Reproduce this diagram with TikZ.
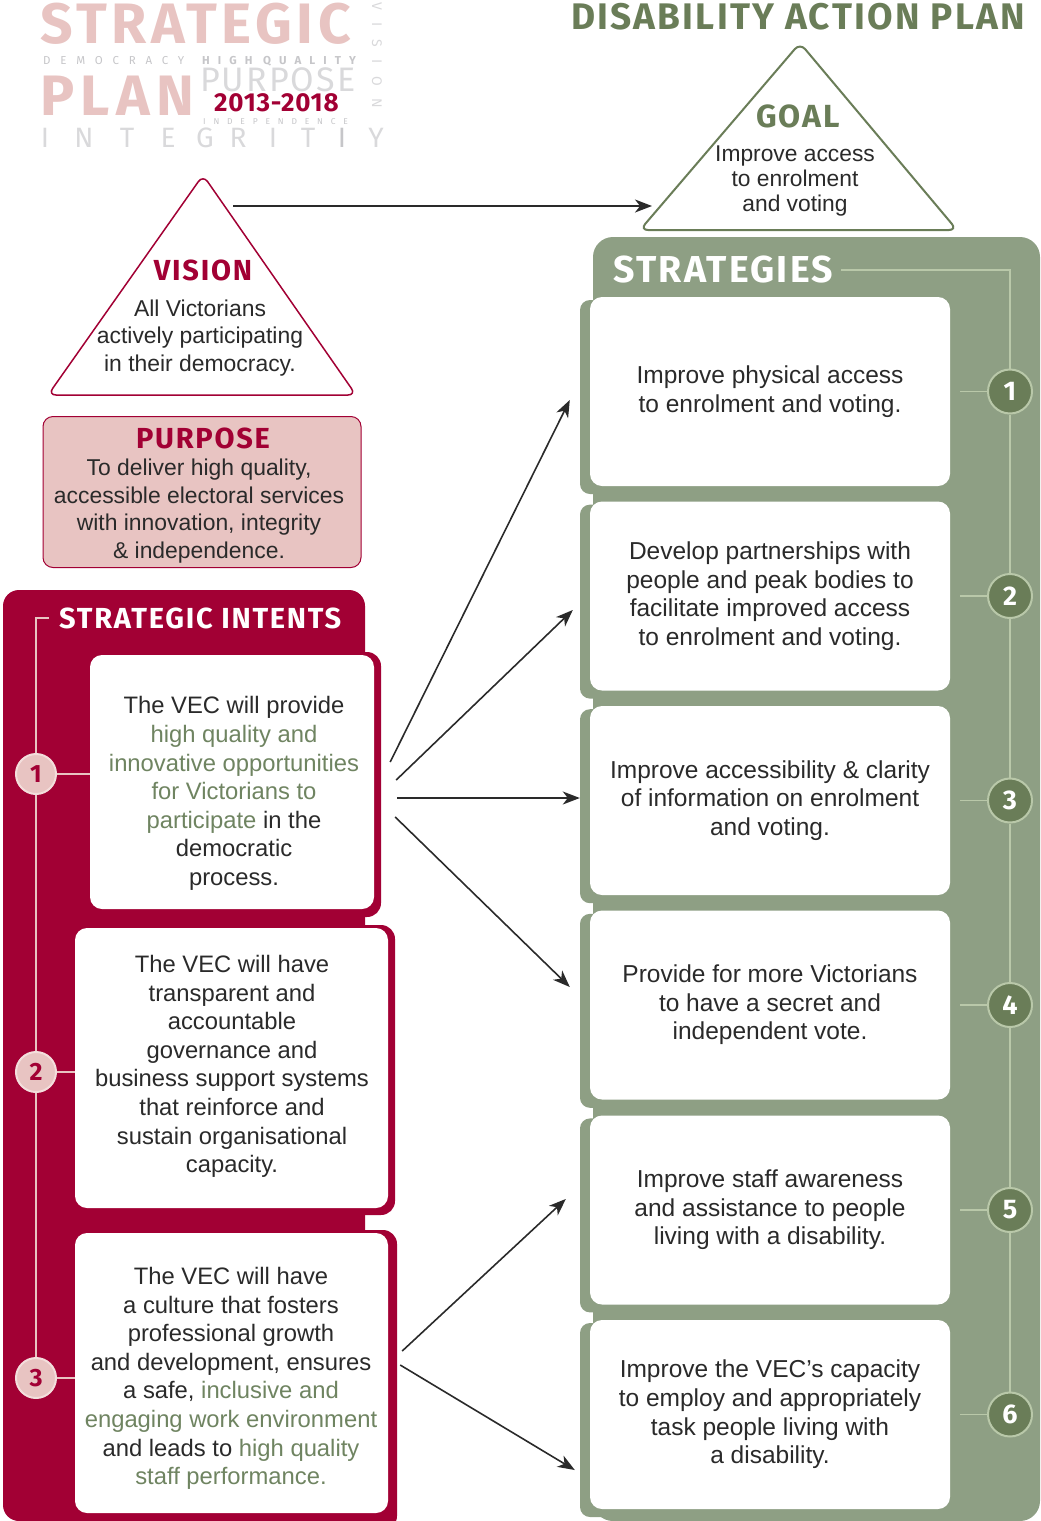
\documentclass[tikz,border=0pt]{standalone}
\usepackage{fontspec}
\usetikzlibrary{arrows.meta}

\setmainfont{Liberation Sans}
\newfontfamily\headfont{Fira Sans}[LetterSpace=6]
\newfontfamily\logofont{Fira Sans}

\definecolor{vecred}{HTML}{A20034}
\definecolor{vecpink}{HTML}{E8C4C2}
\definecolor{vecrose}{HTML}{F3DEDC}
\definecolor{vecgreen}{HTML}{8E9F84}
\definecolor{vecdark}{HTML}{6A7D58}
\definecolor{vecpale}{HTML}{B9C8A9}
\definecolor{vecolive}{HTML}{6F8461}
\definecolor{vectext}{HTML}{2A2A2A}
\definecolor{logogrey}{HTML}{D9D9DB}
\definecolor{logomid}{HTML}{C6C6C9}

\newcommand{\hl}[1]{\textcolor{vecolive}{#1}}

\begin{document}
\begin{tikzpicture}[x=1pt, y=-1pt,
  every node/.style={inner sep=0pt},
  heading/.style={font=\headfont\bfseries\fontsize{#1}{#1}\selectfont},
  logo/.style={anchor=west, font=\logofont\fontsize{#1}{#1}\selectfont},
  bodytext/.style={align=center, text=vectext, font=\fontsize{23.8}{28.6}\selectfont},
  intentbox/.style={rectangle, rounded corners=12pt, fill=white},
  stratbox/.style={rectangle, rounded corners=12pt, fill=white, minimum width=360pt,
    minimum height=189pt, align=center, text=vectext, font=\fontsize{24.5}{28.6}\selectfont},
  numred/.style={circle, minimum size=40pt, fill=vecpink, draw=vecrose, line width=2pt,
    text=vecred, font=\logofont\bfseries\fontsize{25}{25}\selectfont},
  numgreen/.style={circle, minimum size=44pt, fill=vecdark, draw=vecpale, line width=2pt,
    text=white, font=\logofont\bfseries\fontsize{27}{27}\selectfont},
  redline/.style={draw=vecpink, line width=2pt},
  greenline/.style={draw=vecpale, line width=1.5pt},
  arrow/.style={draw=vectext, line width=1.6pt, -{Stealth[length=17pt, width=13pt, inset=5pt]}}]

  \useasboundingbox (0,0) rectangle (1041,1521);

  % strategic plan banner
  \node[logo=57, text=vecpink] (strategic) at (40,24) {\bfseries\addfontfeature{LetterSpace=8}STRATEGIC};
  \node[logo=57, text=vecpink] (plan) at (40,96) {\bfseries\addfontfeature{LetterSpace=11}PLAN};
  \node[logo=11.5, text=logomid] (democracy) at (43,61) {\addfontfeature{LetterSpace=85}DEMOCRACY};
  \node[logo=11.5, text=logomid] (quality) at (202,61) {\bfseries\addfontfeature{LetterSpace=70}HIGH QUALITY};
  \node[logo=34, text=logogrey] (purposeword) at (200,80) {\addfontfeature{LetterSpace=6}PURPOSE};
  \node[logo=26, text=vecred] (years) at (214,103) {\bfseries\addfontfeature{LetterSpace=3}2013-2018};
  \node[logo=8.5, text=logomid] (independence) at (203,121.5) {\addfontfeature{LetterSpace=92}INDEPENDENCE};
  \foreach \lx/\lt in {45/I, 84/N, 127/T, 168/E, 205/G, 238/R, 273/I, 308/T, 376/Y}
    \node[font=\logofont\fontsize{28}{28}\selectfont, text=logogrey] (integrity\lx) at (\lx,138) {\lt};
  \node[font=\logofont\fontsize{28}{28}\selectfont, text=logomid] (integrityI) at (342,138) {I};
  \node[logo=14, text=logogrey, rotate=-90] (visionword) at (377,2) {\addfontfeature{LetterSpace=90}VISION};

  % vision and goal
  \draw[vecred, line width=1.5pt, fill=white, rounded corners=8pt]
    (203,175) -- (356,395) -- (48,395) -- cycle;
  \draw[vecdark, line width=2pt, fill=white, rounded corners=8pt]
    (800,43) -- (957,230) -- (640,230) -- cycle;
  \node[heading=29, text=vecred] (vision) at (203,270) {VISION};
  \node[bodytext, font=\fontsize{22.9}{27.5}\selectfont] (visiontext) at (200,338)
    {All Victorians\\actively participating\\in their democracy.};
  \node[heading=37, text=vecdark] (dap) at (798,17) {DISABILITY ACTION PLAN};
  \node[heading=32, text=vecdark] (goal) at (798,116) {GOAL};
  \node[bodytext, font=\fontsize{22.8}{25}\selectfont] (goaltext) at (795,181)
    {Improve access\\to enrolment\\and voting};
  \coordinate (visout) at (233,206);
  \coordinate (goalin) at (652,206);
  \draw[arrow] (visout) -- (goalin);

  % purpose
  \node[rectangle, rounded corners=10pt, fill=vecpink, draw=vecred, line width=1pt,
    minimum width=318pt, minimum height=151pt] (purpose) at (202,492) {};
  \node[heading=29, text=vecred] (purposehead) at (203,438) {PURPOSE};
  \node[bodytext, font=\fontsize{22.9}{27.7}\selectfont] (purposetext) at (199,511)
    {To deliver high quality,\\accessible electoral services\\with innovation, integrity\\\& independence.};

  % strategic intents
  \fill[vecred, rounded corners=16pt] (3,590) rectangle (365,1521);
  \fill[vecred, rounded corners=14pt] (88,652) rectangle (381,917);
  \fill[vecred, rounded corners=14pt] (73,925) rectangle (395,1215);
  \fill[vecred, rounded corners=14pt] (73,1230) rectangle (397,1530);
  \node[intentbox, minimum width=284pt, minimum height=254pt] (i1) at (232,782) {};
  \node[intentbox, minimum width=313pt, minimum height=280pt] (i2) at (231.5,1068) {};
  \node[intentbox, minimum width=313pt, minimum height=280pt] (i3) at (231.5,1373) {};
  \node[bodytext] (t1) at (234,793.5) {The VEC will provide\\\hl{high quality and}\\\hl{innovative opportunities}\\\hl{for Victorians to}\\\hl{participate} in the\\democratic\\process.};
  \node[bodytext] (t2) at (232,1066.5) {The VEC will have\\transparent and\\accountable\\governance and\\business support systems\\that reinforce and\\sustain organisational\\capacity.};
  \node[bodytext] (t3) at (231,1378.5) {The VEC will have\\a culture that fosters\\professional growth\\and development, ensures\\a safe, \hl{inclusive and}\\\hl{engaging work environment}\\and leads to \hl{high quality}\\\hl{staff performance.}};

  \node[heading=29, text=white, anchor=west] (intents) at (59,618) {STRATEGIC INTENTS};
  \node[numred] (c1) at (36,774) {1};
  \node[numred] (c2) at (36,1072) {2};
  \node[numred] (c3) at (36,1378) {3};
  \draw[redline] ([xshift=-10pt]intents.west) -| (c1) -- (c2) -- (c3);
  \draw[redline] (c1) -- (c1 -| i1.west);
  \draw[redline] (c2) -- (c2 -| i2.west);
  \draw[redline] (c3) -- (c3 -| i3.west);

  % strategies
  \fill[vecgreen, rounded corners=20pt] (593,237) rectangle (1040,1521);
  \foreach \k in {0,...,5}
    \fill[vecgreen, rounded corners=10pt] (580,300+204.6*\k) rectangle (620,494+204.6*\k);
  \node[heading=37.5, text=white, anchor=west] (strategies) at (613,270) {STRATEGIES};

  \node[stratbox] (s1) at (770,391.5) {Improve physical access\\to enrolment and voting.};
  \node[stratbox] (s2) at (770,596) {Develop partnerships with\\people and peak bodies to\\facilitate improved access\\to enrolment and voting.};
  \node[stratbox] (s3) at (770,800.5) {Improve accessibility \& clarity\\of information on enrolment\\and voting.};
  \node[stratbox] (s4) at (770,1005) {Provide for more Victorians\\to have a secret and\\independent vote.};
  \node[stratbox] (s5) at (770,1210) {Improve staff awareness\\and assistance to people\\living with a disability.};
  \node[stratbox] (s6) at (770,1414.5) {Improve the VEC’s capacity\\to employ and appropriately\\task people living with\\a disability.};

  \node[numgreen] (n1) at (1010,391.5) {1};
  \node[numgreen] (n2) at (1010,596) {2};
  \node[numgreen] (n3) at (1010,800.5) {3};
  \node[numgreen] (n4) at (1010,1005) {4};
  \node[numgreen] (n5) at (1010,1210) {5};
  \node[numgreen] (n6) at (1010,1414.5) {6};
  \draw[greenline] ([xshift=8pt]strategies.east) -| (n1) -- (n2) -- (n3) -- (n4) -- (n5) -- (n6);
  \draw[greenline] ([xshift=10pt]s1.east) -- (n1);
  \draw[greenline] ([xshift=10pt]s2.east) -- (n2);
  \draw[greenline] ([xshift=10pt]s3.east) -- (n3);
  \draw[greenline] ([xshift=10pt]s4.east) -- (n4);
  \draw[greenline] ([xshift=10pt]s5.east) -- (n5);
  \draw[greenline] ([xshift=10pt]s6.east) -- (n6);

  % links from intents to strategies
  \draw[arrow] ([shift={(16,-20)}]i1.east) -- ([shift={(-20,8.5)}]s1.west);
  \draw[arrow] ([shift={(22,-2)}]i1.east) -- ([shift={(-17,14)}]s2.west);
  \draw[arrow] ([shift={(23,16)}]i1.east) -- ([shift={(-10,-2.5)}]s3.west);
  \draw[arrow] ([shift={(21,35)}]i1.east) -- ([shift={(-20,-18)}]s4.west);
  \draw[arrow] ([shift={(14,-22)}]i3.east) -- ([shift={(-24,-11)}]s5.west);
  \draw[arrow] ([shift={(12,-8)}]i3.east) -- ([shift={(-15,55.5)}]s6.west);
\end{tikzpicture}
\end{document}
